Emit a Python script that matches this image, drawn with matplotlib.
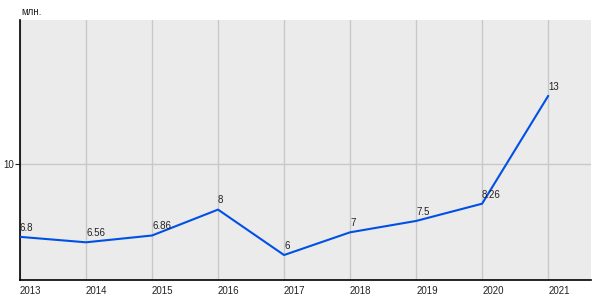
import matplotlib
matplotlib.use("Agg")
import matplotlib.pyplot as plt

years = [2013, 2014, 2015, 2016, 2017, 2018, 2019, 2020, 2021]
values = [6.8, 6.56, 6.86, 8, 6, 7, 7.5, 8.26, 13]
labels = ["6.8", "6.56", "6.86", "8", "6", "7", "7.5", "8.26", "13"]
y_ticks = [10]
unit = "млн."

plt.rcParams['font.family'] = ['Liberation Sans', 'DejaVu Sans']

fig = plt.figure(figsize=(6, 3), dpi=100)
ax = fig.add_axes([20/600, 20/300, 571/600, 260/300])
ax.set_facecolor('#ebebeb')
ax.plot(years, values, color='#0050e6', lw=1.5, zorder=3)
for x, y, t in zip(years, values, labels):
    ax.annotate(t, (x, y), xytext=(0, 3), textcoords='offset points',
                ha='left', va='bottom', fontsize=7, color='#222222', zorder=4)

ax.set_xlim(2013, 2021.65)
ax.set_ylim(4.9, 16.35)
ax.set_xticks(years)
ax.set_xticklabels([str(y) for y in years], ha='left')
ax.set_yticks(y_ticks)
ax.set_yticklabels([str(v) for v in y_ticks])
ax.grid(True, color='#c8c8c8', lw=1)
ax.set_axisbelow(True)
for s in ['top', 'right']:
    ax.spines[s].set_visible(False)
for s in ['left', 'bottom']:
    ax.spines[s].set_color('black')
    ax.spines[s].set_linewidth(1.2)
ax.tick_params(axis='x', length=0, pad=4, labelsize=7, colors='#222222')
ax.tick_params(axis='y', length=3.5, pad=1, labelsize=7, colors='#222222', width=0.8)
fig.text(21/600, 1 - 12/300, unit, fontsize=7, ha='left', va='center', color='#222222')

fig.savefig('out.png', dpi=100, facecolor='white')
